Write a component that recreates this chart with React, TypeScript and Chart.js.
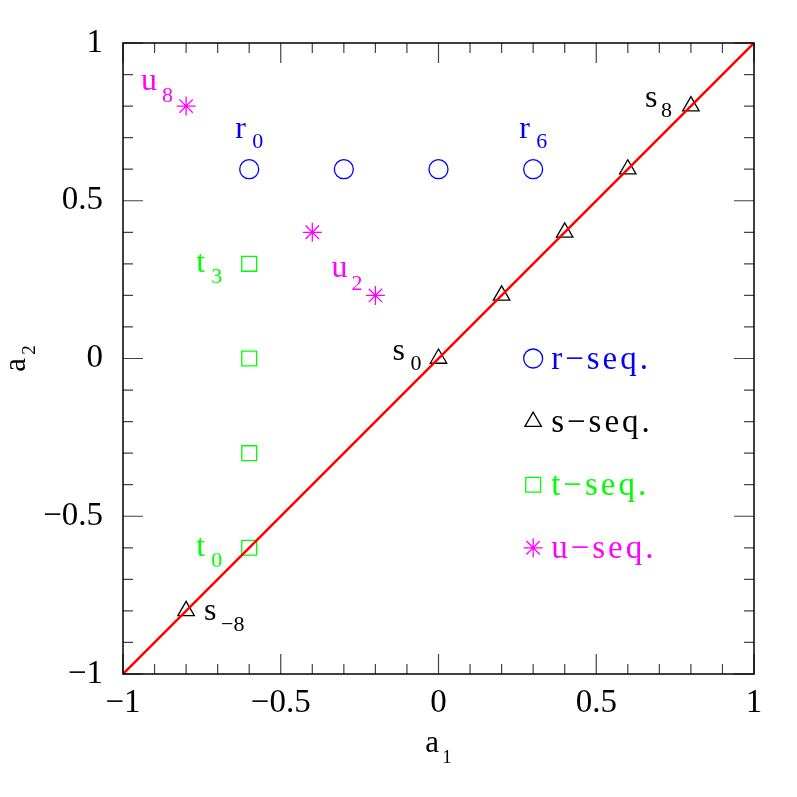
import React, { useEffect, useRef } from 'react';
import { Chart, registerables } from 'chart.js';
import { drawPoint } from 'chart.js/helpers';

Chart.register(...registerables);

// ---- data ----
const rX = [-0.6, -0.3, 0, 0.3];
const rY = [0.6, 0.6, 0.6, 0.6];
const sX = [-0.8, 0, 0.2, 0.4, 0.6, 0.8];
const sY = [-0.8, 0, 0.2, 0.4, 0.6, 0.8];
const tX = [-0.6, -0.6, -0.6, -0.6];
const tY = [-0.6, -0.3, 0, 0.3];
const uX = [-0.8, -0.4, -0.2];
const uY = [0.8, 0.4, 0.2];
const diagX = [-1, 1];
const diagY = [-1, 1];

const majorTicks = [-1, -0.5, 0, 0.5, 1];
const minorTicks = [-0.9, -0.8, -0.7, -0.6, -0.4, -0.3, -0.2, -0.1, 0.1, 0.2, 0.3, 0.4, 0.6, 0.7, 0.8, 0.9];

const xTitle = ['a', '1'];
const yTitle = ['a', '2'];

const legendLabels = ['r\u2212seq.', 's\u2212seq.', 't\u2212seq.', 'u\u2212seq.'];
const legendX = 0.3;
const legendY = [0, -0.2, -0.4, -0.6];

// point labels: base letter, subscript, series, point index
const annBase = ['u', 'r', 'r', 's', 's', 's', 'u', 't', 't'];
const annSub = ['8', '0', '6', '8', '0', '\u22128', '2', '3', '0'];
const annSeries = ['u', 'r', 'r', 's', 's', 's', 'u', 't', 't'];
const annIndex = [0, 0, 3, 5, 1, 0, 2, 3, 0];

// ---- styles ----
const COLORS: Record<string, string> = { r: '#0000ff', s: '#000000', t: '#00ff00', u: '#ff00ff' };
const STYLES: Record<string, any> = {
  r: { pointStyle: 'circle', radius: 9.5 },
  s: { pointStyle: 'triangle', radius: 9.5 },
  t: { pointStyle: 'rect', radius: 10.5 },
  u: { pointStyle: 'star', radius: 9.5 },
};
// pixel offsets of label [baseDx, baseDy, subDx, subDy]
const annOffsets = [
  [-45, -16, -24, -4],
  [-14, -31, 3, -21],
  [-14, -31, 3, -21],
  [-46, 1, -30, 11],
  [-46, 1, -28, 11],
  [18, 9, 35, 20],
  [-44, -18, -24, -5],
  [-53, 8, -38, 19],
  [-53, 8, -38, 19],
];

const SERIF = '"Liberation Serif", "Times New Roman", serif';

const seriesData: Record<string, { x: number[]; y: number[] }> = {
  r: { x: rX, y: rY },
  s: { x: sX, y: sY },
  t: { x: tX, y: tY },
  u: { x: uX, y: uY },
};

const pts = (xs: number[], ys: number[]) => xs.map((x, i) => ({ x, y: ys[i] }));
const fmt = (v: number) => (v < 0 ? '\u2212' + String(Math.abs(v)) : String(v));

const framePlugin = {
  id: 'frameAndText',
  afterDraw(chart: any) {
    const ctx = chart.ctx as CanvasRenderingContext2D;
    const xs = chart.scales.x;
    const ys = chart.scales.y;
    const { left, right, top, bottom } = chart.chartArea;
    ctx.save();
    // ticks
    ctx.strokeStyle = '#444';
    ctx.lineWidth = 1.2;
    const drawTicks = (vals: number[], len: number) => {
      ctx.beginPath();
      for (const v of vals) {
        const px = xs.getPixelForValue(v);
        ctx.moveTo(px, bottom);
        ctx.lineTo(px, bottom - len);
        ctx.moveTo(px, top);
        ctx.lineTo(px, top + len);
        const py = ys.getPixelForValue(v);
        ctx.moveTo(left, py);
        ctx.lineTo(left + len, py);
        ctx.moveTo(right, py);
        ctx.lineTo(right - len, py);
      }
      ctx.stroke();
    };
    drawTicks(majorTicks, 20);
    drawTicks(minorTicks, 10);
    // frame
    ctx.strokeStyle = '#000';
    ctx.lineWidth = 1.5;
    ctx.strokeRect(left, top, right - left, bottom - top);

    // point labels
    ctx.textBaseline = 'alphabetic';
    ctx.textAlign = 'left';
    annBase.forEach((b, i) => {
      const ser = annSeries[i];
      const d = seriesData[ser];
      const px = xs.getPixelForValue(d.x[annIndex[i]]);
      const py = ys.getPixelForValue(d.y[annIndex[i]]);
      const o = annOffsets[i];
      ctx.fillStyle = COLORS[ser];
      ctx.font = `32px ${SERIF}`;
      ctx.fillText(b, px + o[0], py + o[1]);
      ctx.font = `22px ${SERIF}`;
      ctx.fillText(annSub[i], px + o[2], py + o[3]);
    });

    // legend
    const keys = ['r', 's', 't', 'u'];
    keys.forEach((k, i) => {
      const px = xs.getPixelForValue(legendX);
      const py = ys.getPixelForValue(legendY[i]);
      ctx.strokeStyle = COLORS[k];
      ctx.fillStyle = 'rgba(0,0,0,0)';
      ctx.lineWidth = 1.3;
      drawPoint(ctx, { ...STYLES[k], borderWidth: 1.3, rotation: 0 }, px, py);
      ctx.fillStyle = COLORS[k];
      ctx.font = `33px ${SERIF}`;
      (ctx as any).letterSpacing = '3px';
      ctx.fillText(legendLabels[i], px + 18, py + 10);
      (ctx as any).letterSpacing = '0px';
    });

    // axis titles
    ctx.fillStyle = '#000';
    const cx = (left + right) / 2;
    ctx.font = `31px ${SERIF}`;
    const wa = ctx.measureText(xTitle[0]).width;
    ctx.font = `19px ${SERIF}`;
    const w1 = ctx.measureText(xTitle[1]).width;
    const startX = cx - (wa + 3 + w1) / 2;
    ctx.font = `31px ${SERIF}`;
    ctx.fillText(xTitle[0], startX, bottom + 78);
    ctx.font = `19px ${SERIF}`;
    ctx.fillText(xTitle[1], startX + wa + 3, bottom + 89);

    const cy = (top + bottom) / 2;
    ctx.save();
    ctx.translate(17, cy);
    ctx.rotate(-Math.PI / 2);
    ctx.font = `31px ${SERIF}`;
    const wa2 = ctx.measureText(yTitle[0]).width;
    ctx.font = `19px ${SERIF}`;
    const w2 = ctx.measureText(yTitle[1]).width;
    const sx = -(wa2 + 3 + w2) / 2;
    ctx.font = `31px ${SERIF}`;
    ctx.fillText(yTitle[0], sx, 0);
    ctx.font = `19px ${SERIF}`;
    ctx.fillText(yTitle[1], sx + wa2 + 3, 10);
    ctx.restore();

    ctx.restore();
  },
};

export default function App() {
  const ref = useRef<HTMLCanvasElement | null>(null);
  useEffect(() => {
    if (!ref.current) return;
    const mk = (k: string) => ({
      type: 'scatter' as const,
      label: k,
      data: pts(seriesData[k].x, seriesData[k].y),
      showLine: false,
      pointStyle: STYLES[k].pointStyle,
      pointRadius: STYLES[k].radius,
      pointBorderWidth: 1.3,
      pointBorderColor: COLORS[k],
      pointBackgroundColor: 'rgba(0,0,0,0)',
      borderColor: COLORS[k],
      backgroundColor: 'rgba(0,0,0,0)',
    });
    const chart = new Chart(ref.current, {
      type: 'scatter',
      data: {
        datasets: [
          {
            type: 'line',
            label: 'diag',
            data: pts(diagX, diagY),
            borderColor: '#ff0000',
            borderWidth: 2.5,
            pointRadius: 0,
            fill: false,
          } as any,
          mk('r'),
          mk('s'),
          mk('t'),
          mk('u'),
        ],
      },
      options: {
        animation: false,
        responsive: false,
        layout: { padding: { top: 35, right: 35, left: 0, bottom: 0 } },
        plugins: { legend: { display: false }, tooltip: { enabled: false } },
        scales: {
          x: {
            type: 'linear',
            min: -1,
            max: 1,
            afterFit: (s: any) => {
              s.height = 115;
              s.paddingLeft = 0;
              s.paddingRight = 0;
            },
            afterBuildTicks: (s: any) => {
              s.ticks = majorTicks.map((v) => ({ value: v }));
            },
            ticks: {
              callback: (v: any) => fmt(Number(v)),
              font: { family: SERIF, size: 33 },
              color: '#000',
              padding: 10,
              maxRotation: 0,
              autoSkip: false,
            },
            grid: { display: false, drawTicks: false },
            border: { display: false },
          },
          y: {
            type: 'linear',
            min: -1,
            max: 1,
            afterFit: (s: any) => {
              s.width = 115;
              s.paddingTop = 0;
              s.paddingBottom = 0;
            },
            afterBuildTicks: (s: any) => {
              s.ticks = majorTicks.map((v) => ({ value: v }));
            },
            ticks: {
              callback: (v: any) => fmt(Number(v)),
              font: { family: SERIF, size: 33 },
              color: '#000',
              padding: 20,
              autoSkip: false,
            },
            grid: { display: false, drawTicks: false },
            border: { display: false },
          },
        },
      },
      plugins: [framePlugin],
    });
    return () => chart.destroy();
  }, []);
  return (
    <div style={{ width: 781, height: 781 }}>
      <canvas ref={ref} width={781} height={781} style={{ display: 'block' }} />
    </div>
  );
}
